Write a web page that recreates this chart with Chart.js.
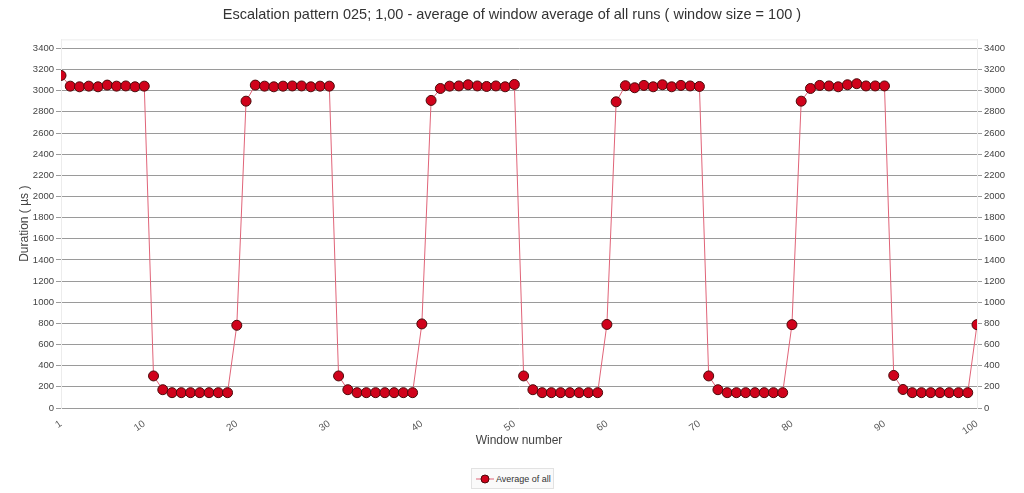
<!DOCTYPE html>
<html>
<head>
<meta charset="utf-8">
<script src="https://cdn.jsdelivr.net/npm/chart.js@4/dist/chart.umd.min.js"></script>
<style>
  html, body { margin: 0; padding: 0; background: #fff; }
  #wrap { position: relative; width: 1024px; height: 493px; }
  #legend {
    position: absolute; left: 471px; top: 468px; width: 83px; height: 21px;
    border: 1px solid #e2e2e2; background: #fafafa; box-sizing: border-box;
    font: 9px "Liberation Sans", Arial, sans-serif; color: #333;
    display: flex; align-items: center; white-space: nowrap;
  }
  #legend svg { margin: 0 2px 0 4px; }
</style>
</head>
<body>
<div id="wrap">
  <canvas id="chart" width="1024" height="493"></canvas>
  <div id="legend">
    <svg width="18" height="10"><line x1="0" y1="5" x2="18" y2="5" stroke="#e06478" stroke-width="1"/><circle cx="9" cy="5" r="4" fill="#d0021b" stroke="#4a0a0a" stroke-width="1"/></svg>
    <span>Average of all</span>
  </div>
</div>
<script>
'use strict';

// ── Data ───────────────────────────────────────────────────
const windowLabels = Array.from({ length: 100 }, (_, i) => String(i + 1));
const shownWindows = ['1', '10', '20', '30', '40', '50', '60', '70', '80', '90', '100'];
const yTickValues = [0, 200, 400, 600, 800, 1000, 1200, 1400, 1600, 1800, 2000,
                     2200, 2400, 2600, 2800, 3000, 3200, 3400];

const averageOfAll = [
  3144, 3043, 3037, 3043, 3037, 3053, 3043, 3045, 3037, 3043,
  303, 173, 145, 145, 145, 145, 145, 145, 145, 782,
  2901, 3053, 3043, 3037, 3043, 3045, 3045, 3037, 3043, 3043,
  303, 173, 145, 145, 145, 145, 145, 145, 145, 795,
  2908, 3021, 3043, 3045, 3056, 3045, 3040, 3045, 3037, 3059,
  303, 173, 145, 145, 145, 145, 145, 145, 145, 790,
  2895, 3047, 3028, 3050, 3037, 3056, 3037, 3050, 3045, 3040,
  303, 173, 145, 145, 145, 145, 145, 145, 145, 788,
  2901, 3021, 3050, 3045, 3037, 3056, 3066, 3045, 3045, 3045,
  308, 175, 145, 145, 145, 145, 145, 145, 145, 788
];

const yMax = 3485;

// ── Style ──────────────────────────────────────────────────
const FONT = '"Liberation Sans", Arial, sans-serif';
const textColor = '#444';
const gridColor = '#9a9a9a';
const frameColor = '#ececec';

// light frame on top of plot area
const frameTop = {
  id: 'frameTop',
  beforeDatasetsDraw(chart) {
    const { ctx, chartArea: a } = chart;
    ctx.save();
    ctx.strokeStyle = frameColor;
    ctx.lineWidth = 1;
    ctx.beginPath();
    ctx.moveTo(a.left, a.top + 0.5);
    ctx.lineTo(a.right, a.top + 0.5);
    ctx.stroke();
    ctx.restore();
  }
};

const setYTicks = scale => {
  scale.ticks = yTickValues.map(v => ({ value: v }));
};

const yTickOpts = {
  padding: 2,
  color: textColor,
  font: { family: FONT, size: 9.5 },
  callback: v => String(v)
};

new Chart(document.getElementById('chart').getContext('2d'), {
  type: 'line',
  data: {
    labels: windowLabels,
    datasets: [{
      label: 'Average of all',
      data: averageOfAll,
      borderColor: '#e06478',
      borderWidth: 1,
      backgroundColor: '#d0021b',
      pointBackgroundColor: '#d0021b',
      pointBorderColor: '#4a0a0a',
      pointBorderWidth: 1,
      pointRadius: 5,
      tension: 0,
      clip: 0
    }]
  },
  options: {
    responsive: false,
    animation: false,
    layout: { padding: { left: 0, right: 0, top: 0, bottom: 40 } },
    plugins: {
      legend: { display: false },
      tooltip: { enabled: false },
      title: {
        display: true,
        text: 'Escalation pattern 025; 1,00 - average of window average of all runs ( window size = 100 )',
        color: '#333',
        font: { family: FONT, size: 14.5, weight: 'normal' },
        padding: { top: 6, bottom: 16 }
      }
    },
    scales: {
      x: {
        type: 'category',
        offset: false,
        grid: { display: false },
        border: { display: false },
        ticks: {
          autoSkip: false,
          minRotation: 35,
          maxRotation: 35,
          padding: 2,
          color: '#555',
          font: { family: FONT, size: 10 },
          callback: (v, i) => shownWindows.includes(windowLabels[i]) ? windowLabels[i] : null
        },
        title: {
          display: true,
          text: 'Window number',
          color: textColor,
          font: { family: FONT, size: 12 },
          padding: { top: 0, bottom: 5 }
        },
        afterFit: s => { s.height = 45; }
      },
      y: {
        position: 'left',
        min: 0,
        max: yMax,
        ticks: yTickOpts,
        grid: { color: gridColor, tickLength: 5 },
        border: { color: frameColor },
        title: {
          display: true,
          text: 'Duration ( µs )',
          color: textColor,
          font: { family: FONT, size: 12 },
          padding: { top: 17, bottom: 0 }
        },
        afterBuildTicks: setYTicks,
        afterFit: s => { s.width = 61; }
      },
      y2: {
        position: 'right',
        min: 0,
        max: yMax,
        ticks: yTickOpts,
        grid: { drawOnChartArea: false, color: gridColor, tickLength: 5 },
        border: { color: frameColor },
        afterBuildTicks: setYTicks,
        afterFit: s => { s.width = 47; }
      }
    }
  },
  plugins: [frameTop]
});
</script>
</body>
</html>
